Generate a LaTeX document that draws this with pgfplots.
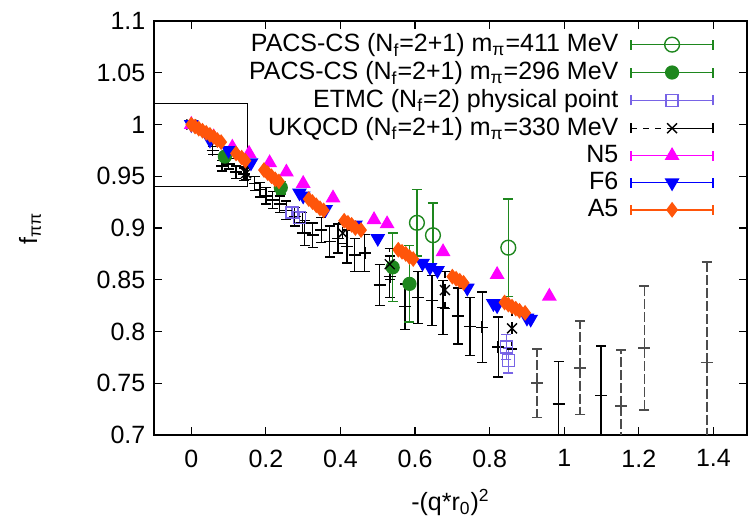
\documentclass[border=0pt]{standalone}
\usepackage{fontspec}
\setmainfont{Liberation Sans}
\usepackage{pgfplots}
\pgfplotsset{compat=1.18}
\usepackage{pgfplotstable}

\definecolor{pgreen}{RGB}{30,135,30}
\definecolor{etmc}{RGB}{120,100,230}
\definecolor{nfive}{RGB}{255,0,255}
\definecolor{fsix}{RGB}{0,0,255}
\definecolor{afive}{RGB}{255,85,10}

\pgfplotstableread{
x y e
0.605 0.905 0.032
0.648 0.893 0.031
0.850 0.881 0.047
}\pacsA
\pgfplotstableread{
x y e
0.090 0.969 0.004
0.240 0.939 0.006
0.540 0.862 0.033
0.585 0.846 0.037
}\pacsB
\pgfplotstableread{
x y e
0.270 0.915 0.005
0.290 0.910 0.005
0.845 0.785 0.012
0.850 0.772 0.012
}\etmc
\pgfplotstableread{
x y e
0.000 1.000 0.000
0.147 0.953 0.006
0.406 0.895 0.010
0.532 0.865 0.015
0.680 0.840 0.018
0.860 0.803 0.020
}\ukqcd
\pgfplotstableread{
x y e
0.057 0.975 0.004
0.083 0.960 0.005
0.100 0.962 0.005
0.120 0.954 0.006
0.142 0.952 0.006
0.170 0.943 0.007
0.185 0.937 0.007
0.200 0.931 0.008
0.218 0.927 0.008
0.237 0.923 0.008
0.255 0.917 0.009
0.277 0.911 0.009
0.298 0.905 0.010
0.304 0.895 0.012
0.325 0.893 0.012
0.349 0.898 0.012
0.371 0.887 0.015
0.393 0.890 0.014
0.417 0.882 0.016
0.438 0.874 0.016
0.465 0.876 0.018
0.505 0.845 0.020
0.532 0.853 0.020
0.573 0.824 0.022
0.608 0.833 0.025
0.645 0.830 0.024
0.675 0.823 0.026
0.715 0.815 0.027
0.747 0.805 0.028
0.780 0.804 0.034
0.823 0.785 0.029
0.985 0.730 0.041
1.099 0.738 0.048
}\plusA
\pgfplotstableread{
x y e
0.927 0.750 0.033
1.043 0.765 0.045
1.153 0.728 0.054
1.215 0.784 0.060
1.382 0.770 0.097
}\plusB
\pgfplotstableread{
x y
0.000 1.000
0.060 0.988
0.110 0.978
0.155 0.972
0.210 0.963
0.255 0.954
0.300 0.943
0.380 0.929
0.490 0.908
0.525 0.904
0.675 0.877
0.820 0.855
0.960 0.834
}\nfive
\pgfplotstableread{
x y
0.000 1.000
0.050 0.985
0.100 0.975
0.160 0.963
0.290 0.934
0.300 0.931
0.360 0.918
0.440 0.903
0.500 0.890
0.620 0.866
0.640 0.862
0.660 0.859
0.740 0.842
0.810 0.827
0.820 0.825
0.900 0.813
0.910 0.812
}\fsix
\pgfplotstableread{
x y
0.000 1.000
0.010 0.998
0.020 0.996
0.030 0.994
0.040 0.992
0.050 0.990
0.060 0.988
0.070 0.985
0.080 0.983
0.120 0.972
0.135 0.968
0.145 0.965
0.195 0.956
0.205 0.953
0.215 0.950
0.225 0.947
0.235 0.945
0.315 0.928
0.325 0.925
0.335 0.922
0.345 0.919
0.355 0.917
0.410 0.907
0.420 0.905
0.430 0.903
0.440 0.900
0.455 0.898
0.555 0.879
0.565 0.877
0.575 0.875
0.585 0.872
0.595 0.870
0.700 0.853
0.710 0.851
0.720 0.849
0.730 0.847
0.840 0.828
0.850 0.826
0.860 0.824
0.870 0.822
0.880 0.820
0.895 0.818
}\afive

\pgfplotsset{
  errleg/.style={legend image code/.code={
    \path (0pt,0pt);
    \draw[##1,solid] (4.5pt,0pt) -- (45.5pt,0pt);
    \draw[##1,solid] (4.5pt,-2.5pt) -- (4.5pt,2.5pt) (45.5pt,-2.5pt) -- (45.5pt,2.5pt);
    \draw[##1] plot coordinates {(25pt,0pt)};
  }},
  errlegdash/.style={legend image code/.code={
    \path (0pt,0pt);
    \draw[##1,dashed] (4.5pt,0pt) -- (25pt,0pt);
    \draw[##1,solid] (25pt,0pt) -- (45.5pt,0pt);
    \draw[##1,solid] (4.5pt,-2.5pt) -- (4.5pt,2.5pt) (45.5pt,-2.5pt) -- (45.5pt,2.5pt);
    \draw[##1] plot coordinates {(25pt,0pt)};
  }},
  ebar/.style={error bars/y dir=both, error bars/y explicit,
    error bars/error mark=-,
    error bars/error bar style={line width=0.7pt, solid},
    error bars/error mark options={rotate=90, mark size=2.5pt, line width=0.7pt, solid}},
}

\begin{document}
\fontsize{12.5}{15}\selectfont
\begin{tikzpicture}[font=\fontsize{12.5}{15}\selectfont]
\begin{axis}[
  name=ax,
  scale only axis,
  width=296.5pt, height=207pt,
  xmin=-0.1, xmax=1.49,
  ymin=0.7, ymax=1.1,
  xtick={0,0.2,0.4,0.6,0.8,1,1.2,1.4},
  ytick={0.7,0.75,0.8,0.85,0.9,0.95,1,1.05,1.1},
  tick align=inside,
  tick pos=both,
  major tick length=4pt,
  axis line style={line width=0.7pt},
  every tick/.style={line width=0.6pt, black},
  /pgf/number format/assume math mode=true,
  /pgf/number format/fixed,
  xticklabel style={yshift=-3pt},
  xlabel={-(q*r\textsubscript{0})\textsuperscript{2}},
  xlabel style={at={(axis description cs:0.5,-0.163)}, anchor=center},
  legend cell align=right,
  legend plot pos=right,
  legend style={at={(axis cs:1.402,1.091)}, anchor=north east, draw=none, fill=none,
     inner sep=0pt, row sep=0pt, nodes={inner sep=1.5pt}},
]
\draw[black, line width=0.7pt] (axis cs:-0.1,0.94) rectangle (axis cs:0.15,1.02);

\addplot[black, mark=+, mark size=3pt, only marks, line width=0.8pt, ebar, forget plot]
  table[x=x, y=y, y error=e] {\plusA};
\addplot[black!70, mark=+, mark size=3pt, only marks, line width=0.8pt, ebar,
  error bars/error bar style={line width=0.9pt, dash pattern=on 5pt off 1.5pt}, forget plot]
  table[x=x, y=y, y error=e] {\plusB};

\addplot[pgreen, mark=o, mark size=3.7pt, only marks, line width=0.7pt, ebar, errleg]
  table[x=x, y=y, y error=e] {\pacsA};
\addlegendentry{PACS-CS (N\textsubscript{f}=2+1) m\textsubscript{π}=411 MeV}
\addplot[pgreen, mark=*, mark size=3.2pt, only marks, line width=0.7pt, ebar, errleg]
  table[x=x, y=y, y error=e] {\pacsB};
\addlegendentry{PACS-CS (N\textsubscript{f}=2+1) m\textsubscript{π}=296 MeV}
\addplot[etmc, mark=square, mark size=3pt, only marks, line width=0.7pt, ebar, errleg]
  table[x=x, y=y, y error=e] {\etmc};
\addlegendentry{ETMC (N\textsubscript{f}=2) physical point}
\addplot[black, mark=x, mark size=3.5pt, only marks, line width=0.7pt, ebar,
  error bars/error bar style={line width=0.7pt, dashed}, errlegdash]
  table[x=x, y=y, y error=e] {\ukqcd};
\addlegendentry{UKQCD (N\textsubscript{f}=2+1) m\textsubscript{π}=330 MeV}
\addplot[nfive, mark=triangle*, mark size=3.6pt, only marks, line width=0.7pt, errleg]
  table[x=x, y=y] {\nfive};
\addlegendentry{N5}
\addplot[fsix, mark=triangle*, mark size=3.6pt, mark options={rotate=180}, only marks, line width=0.7pt, errleg]
  table[x=x, y=y] {\fsix};
\addlegendentry{F6}
\addplot[afive, mark=diamond*, mark size=3.4pt, only marks, line width=0.7pt, errleg]
  table[x=x, y=y] {\afive};
\addlegendentry{A5}
\end{axis}
\node[rotate=90, anchor=center] at ([xshift=-62pt]ax.west) {f\textsubscript{ππ}};
\pgfresetboundingbox
\path[use as bounding box] ([xshift=-77pt,yshift=-43pt]ax.south west) rectangle ([xshift=1pt,yshift=10.5pt]ax.north east);
\end{tikzpicture}
\end{document}
